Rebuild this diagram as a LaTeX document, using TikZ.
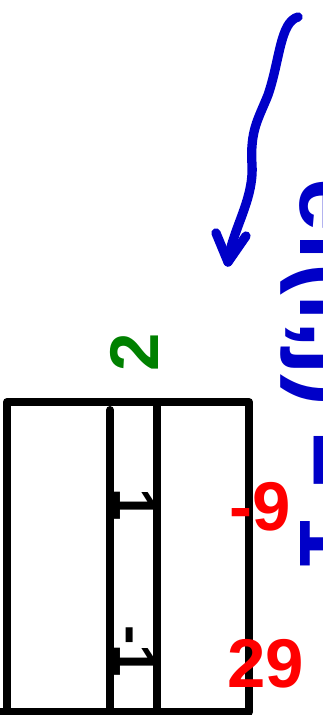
\documentclass[tikz,border=0pt]{standalone}
\usepackage{fontspec}
\setsansfont{Liberation Sans}
\usepackage{xcolor}
\definecolor{penblue}{RGB}{0,0,200}
\definecolor{pengreen}{RGB}{0,128,0}
\definecolor{penred}{RGB}{255,0,0}

\begin{document}
\begin{tikzpicture}[
          x=0.0265cm, y=-0.0265cm,
          pen/.style={line width=6pt, line cap=round, line join=round},
          digit/.style={font=\sffamily\bfseries\fontsize{44}{48}\selectfont, inner sep=0pt},
          big/.style={font=\sffamily\bfseries\fontsize{52}{56}\selectfont},
          arrow/.style={pen, draw=penblue, line width=7pt}
        ]
          \useasboundingbox (0,0) rectangle (323,715);
          \clip (0,0) rectangle (323,715);

          % Box with the two inner columns
          \draw[pen, line cap=butt] (7,720) -- (7,402) -- (249,402) -- (249,712) -- (0,712);
          \coordinate (colA top) at (110,410);
          \coordinate (colA bot) at (110,720);
          \coordinate (colB top) at (157,402);
          \coordinate (colB bot) at (157,720);
          \draw[pen] (colA top) -- (colA bot);
          \draw[pen, line cap=butt] (colB top) -- (colB bot);

          % Labels
          \node[digit, big, text=pengreen, rotate=90] (two) at (134,352) {2};
          \node[digit, rotate=-90] (one) at (135,505) {1};
          \node[digit, rotate=-90] (minusone) at (135,651) {-1};
          \node[digit, big, text=penred] (minusnine) at (260,507) {-9};
          \node[digit, big, text=penred] (twonine) at (266,664) {29};

          % Side note (runs off the edge)
          \node[digit, text=penblue, rotate=-90, anchor=base west,
                font=\sffamily\bfseries\fontsize{72}{76}\selectfont] (note) at (300,178) {ef(i,j) = 1};

          % Curved arrow
          \coordinate (start) at (298,17);
          \coordinate (tip) at (228,262);
          \coordinate (wingL) at (216,233);
          \coordinate (wingR) at (246,236);
          \draw[arrow] (start) .. controls (280,22) and (280,60) .. (268,95)
                       .. controls (258,120) and (250,130) .. (252,165)
                       .. controls (254,200) and (232,230) .. (tip);
          \draw[arrow] (wingL) -- (tip) -- (wingR);
        \end{tikzpicture}
\end{document}
